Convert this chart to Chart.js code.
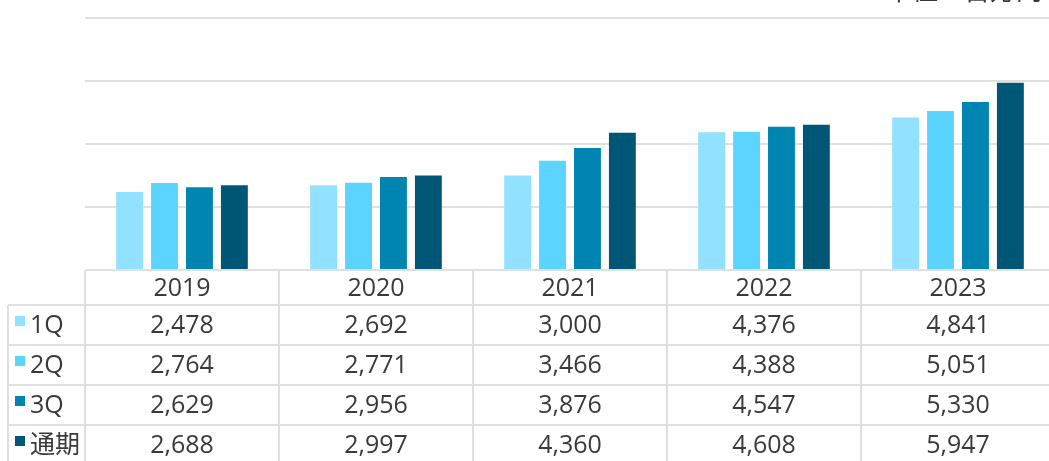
<!DOCTYPE html>
<html>
<head>
<meta charset="utf-8">
<script src="https://cdn.jsdelivr.net/npm/chart.js@4/dist/chart.umd.min.js"></script>
<style>
  html, body { margin: 0; padding: 0; background: #fff; overflow: hidden; }
  #wrap { position: relative; width: 1060px; height: 461px; }
</style>
</head>
<body>
<div id="wrap"><canvas id="salesChart"></canvas></div>
<script>
// data (unit: million yen)
const years = ['2019', '2020', '2021', '2022', '2023'];
const seriesNames = ['1Q', '2Q', '3Q', '通期'];
const q1 = [2478, 2692, 3000, 4376, 4841];
const q2 = [2764, 2771, 3466, 4388, 5051];
const q3 = [2629, 2956, 3876, 4547, 5330];
const fullYear = [2688, 2997, 4360, 4608, 5947];
const yTicks = [0, 2000, 4000, 6000, 8000];
const colors = ['#92e1ff', '#5bd4ff', '#0085b2', '#005775'];
const unitLabel = '単位：百万円';

const FONT = '"Open Sans", "Noto Sans CJK JP", sans-serif';
const TEXT = '#3a3a3a';
const LINE = '#e0e0e0';

// draws the data table under the plot, plus the unit label
const tablePlugin = {
    id: 'dataTable',
    afterDraw(chart) {
        const ctx = chart.ctx;
        const x = chart.scales.x;
        const area = chart.chartArea;
        const rows = [q1, q2, q3, fullYear];
        const headTop = area.bottom;
        const rowTop = 305;
        const rowH = 40;
        const half = (x.getPixelForValue(1) - x.getPixelForValue(0)) / 2;
        const right = chart.width;

        ctx.save();
        ctx.strokeStyle = LINE;
        ctx.lineWidth = 2;
        ctx.beginPath();
        // header top line and row lines
        ctx.moveTo(area.left, headTop); ctx.lineTo(right, headTop);
        for (let r = 0; r <= rows.length; r++) {
            const y = rowTop + r * rowH;
            ctx.moveTo(8, y); ctx.lineTo(right, y);
        }
        // vertical lines
        ctx.moveTo(area.left, headTop); ctx.lineTo(area.left, chart.height);
        ctx.moveTo(8, rowTop); ctx.lineTo(8, chart.height);
        years.forEach((_, i) => {
            const cx = x.getPixelForValue(i) + half;
            ctx.moveTo(cx, headTop); ctx.lineTo(cx, chart.height);
        });
        ctx.stroke();

        ctx.fillStyle = TEXT;
        ctx.font = '25px ' + FONT;
        ctx.textAlign = 'center';
        ctx.textBaseline = 'middle';
        years.forEach((yr, i) => {
            ctx.fillText(yr, x.getPixelForValue(i), headTop + 19);
        });
        rows.forEach((vals, r) => {
            const cy = rowTop + r * rowH + 21;
            vals.forEach((v, i) => {
                ctx.fillText(v.toLocaleString('en-US'), x.getPixelForValue(i), cy);
            });
        });

        // row labels with colour keys
        ctx.textAlign = 'left';
        seriesNames.forEach((name, r) => {
            const cy = rowTop + r * rowH + 21;
            ctx.fillStyle = colors[r];
            ctx.fillRect(15, cy - 10, 10, 10);
            ctx.fillStyle = TEXT;
            ctx.fillText(name, 30, cy);
        });

        // unit label, mostly cut off at the top edge
        ctx.font = '26px "Noto Sans CJK JP", sans-serif';
        ctx.textAlign = 'right';
        ctx.textBaseline = 'alphabetic';
        ctx.fillText(unitLabel, 1042, 0);
        ctx.restore();
    }
};

new Chart(document.getElementById('salesChart'), {
    type: 'bar',
    data: {
        labels: years,
        datasets: [q1, q2, q3, fullYear].map((d, i) => ({
            label: seriesNames[i],
            data: d,
            backgroundColor: colors[i],
            barPercentage: 0.77,
            categoryPercentage: 0.72
        }))
    },
    options: {
        responsive: true,
        maintainAspectRatio: false,
        animation: false,
        layout: { padding: { left: 85, right: 5, top: 18, bottom: 191 } },
        scales: {
            x: {
                grid: { display: false },
                border: { display: false },
                ticks: { display: false },
                afterFit: s => { s.height = 0; }
            },
            y: {
                min: 0,
                max: 8000,
                afterBuildTicks: s => { s.ticks = yTicks.map(v => ({ value: v })); },
                grid: { color: LINE, lineWidth: 2, drawTicks: false },
                border: { display: false },
                ticks: { display: false },
                afterFit: s => { s.width = 0; }
            }
        },
        plugins: {
            legend: { display: false },
            tooltip: { enabled: false }
        }
    },
    plugins: [tablePlugin]
});
</script>
</body>
</html>
